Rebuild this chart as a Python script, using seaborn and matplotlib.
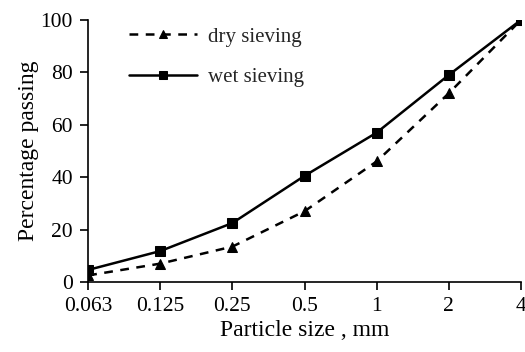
import numpy as np
import pandas as pd
import matplotlib.pyplot as plt
import seaborn as sns

# Sieve sizes (mm) and percentage passing
sizes = ["0.063", "0.125", "0.25", "0.5", "1", "2", "4"]
dry_sieving = [2.5, 7.0, 13.5, 27.0, 46.0, 72.0, 100.0]
wet_sieving = [4.6, 11.8, 22.5, 40.5, 57.0, 79.0, 100.0]

sns.set_theme(style="ticks")
plt.rcParams["font.family"] = ["Liberation Serif", "DejaVu Serif"]

df = pd.DataFrame({"pos": np.arange(len(sizes)), "dry": dry_sieving, "wet": wet_sieving})

fig, ax = plt.subplots(figsize=(5.25, 3.52), dpi=100)
fig.subplots_adjust(left=0.168, right=0.992, bottom=0.199, top=0.943)

sns.lineplot(data=df, x="pos", y="dry", ax=ax, color="black", linestyle=(0, (3.5, 3)),
             linewidth=1.8, marker="^", markersize=7.5, markeredgecolor="black",
             label="dry sieving")
sns.lineplot(data=df, x="pos", y="wet", ax=ax, color="black", linestyle="-",
             linewidth=1.8, marker="s", markersize=7.5, markeredgecolor="black",
             label="wet sieving")

ax.set_xlim(0, len(sizes) - 1)
ax.set_ylim(0, 100)
ax.set_xticks(np.arange(len(sizes)))
ax.set_xticklabels(sizes)
ax.set_yticks([0, 20, 40, 60, 80, 100])
ax.tick_params(axis="both", labelsize=15.5, direction="out", length=6, width=1.2,
               color="black", labelcolor="black", pad=5)
ax.set_xlabel("Particle size , mm", fontsize=17, color="black", labelpad=3)
ax.set_ylabel("Percentage passing", fontsize=17, color="black", labelpad=1)

for side in ["top", "right"]:
    ax.spines[side].set_visible(False)
for side in ["left", "bottom"]:
    ax.spines[side].set_color("black")
    ax.spines[side].set_linewidth(1.2)

leg = ax.legend(loc="upper left", bbox_to_anchor=(0.05, 1.045), frameon=False,
                fontsize=15, handlelength=3.3, labelspacing=1.0, handletextpad=0.5,
                markerscale=0.8)

fig.savefig("out.png", dpi=100)
